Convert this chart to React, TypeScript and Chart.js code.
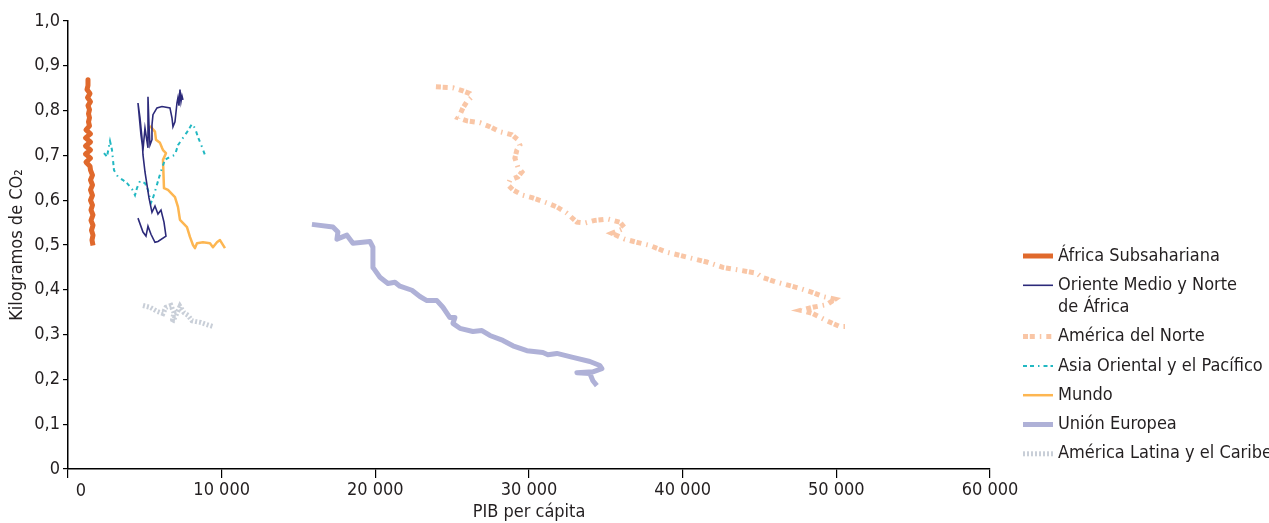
import React, { useEffect, useRef } from 'react';
import { Chart, registerables } from 'chart.js';

Chart.register(...registerables);

const FONT = '"Liberation Sans Narrow", "DejaVu Sans Condensed", "Arial Narrow", sans-serif';

// ---------------- data ----------------
const africaGdp = [1301, 1301, 1236, 1431, 1269, 1464, 1301, 1399, 1334, 1399, 1334, 1399, 1171, 1464, 1139, 1464, 1139, 1464, 1139, 1464, 1171, 1431, 1464, 1594, 1464, 1594, 1464, 1594, 1464, 1594, 1496, 1627, 1496, 1627, 1529, 1627, 1561, 1627];
const africaCo2 = [0.869, 0.856, 0.847, 0.838, 0.829, 0.82, 0.811, 0.802, 0.793, 0.784, 0.775, 0.766, 0.757, 0.748, 0.739, 0.73, 0.721, 0.712, 0.703, 0.694, 0.685, 0.676, 0.667, 0.656, 0.645, 0.634, 0.623, 0.611, 0.6, 0.589, 0.578, 0.567, 0.555, 0.544, 0.533, 0.522, 0.511, 0.499];

const menaGdp = [4554, 4880, 5075, 5205, 5400, 5660, 5855, 6376, 6246, 6051, 5855, 5660, 5465, 5270, 5140, 5010, 4880, 4814, 4684, 4554, 4749, 4880, 5010, 5205, 5205, 5205, 5270, 5335, 5465, 5465, 5530, 5790, 6116, 6636, 6766, 6831, 6961, 7092, 7157, 7222, 7287, 7352, 7417, 7482];
const menaCo2 = [0.56, 0.529, 0.52, 0.542, 0.524, 0.506, 0.508, 0.52, 0.551, 0.578, 0.569, 0.587, 0.573, 0.605, 0.634, 0.663, 0.701, 0.739, 0.784, 0.817, 0.746, 0.712, 0.761, 0.717, 0.779, 0.831, 0.768, 0.723, 0.735, 0.768, 0.791, 0.806, 0.809, 0.806, 0.784, 0.764, 0.775, 0.817, 0.829, 0.811, 0.847, 0.82, 0.833, 0.824];

const northAmGdp = [23942, 25048, 25699, 26154, 26284, 25959, 25699, 25504, 25374, 25959, 26805, 27455, 28106, 28887, 29277, 29407, 29212, 29082, 29277, 29537, 29277, 28757, 28626, 28952, 29602, 30253, 31164, 31814, 32465, 33116, 33636, 34287, 35132, 35913, 36238, 35392, 36238, 37019, 37865, 38971, 40272, 41573, 42614, 44176, 44826, 45152, 46128, 47429, 48470, 49120, 49901, 49381, 48470, 47689, 48470, 49381, 50226, 50681];
const northAmCo2 = [0.853, 0.851, 0.844, 0.838, 0.831, 0.82, 0.806, 0.791, 0.784, 0.777, 0.773, 0.764, 0.753, 0.746, 0.735, 0.723, 0.712, 0.694, 0.674, 0.663, 0.652, 0.645, 0.634, 0.623, 0.611, 0.605, 0.594, 0.585, 0.571, 0.551, 0.549, 0.555, 0.558, 0.551, 0.538, 0.526, 0.513, 0.506, 0.499, 0.484, 0.473, 0.462, 0.45, 0.441, 0.437, 0.428, 0.417, 0.405, 0.394, 0.385, 0.379, 0.367, 0.361, 0.354, 0.347, 0.331, 0.318, 0.318];

const asiaGdp = [2342, 2537, 2733, 2863, 2993, 3253, 3578, 3839, 4164, 4359, 4489, 4684, 5010, 5205, 5400, 5530, 5725, 5920, 6116, 6311, 6636, 6961, 7157, 7482, 7807, 8067, 8263, 8458, 8718, 8913];
const asiaCo2 = [0.705, 0.697, 0.732, 0.712, 0.667, 0.652, 0.645, 0.638, 0.625, 0.611, 0.627, 0.643, 0.638, 0.623, 0.594, 0.605, 0.627, 0.65, 0.672, 0.69, 0.697, 0.701, 0.723, 0.739, 0.755, 0.77, 0.761, 0.741, 0.719, 0.701];

const worldGdp = [5335, 5660, 5725, 5985, 6116, 6181, 6376, 6181, 6246, 6506, 6961, 7157, 7287, 7742, 7937, 8133, 8263, 8393, 8783, 9239, 9434, 9694, 9889, 10214];
const worldCo2 = [0.766, 0.753, 0.735, 0.728, 0.717, 0.712, 0.705, 0.69, 0.627, 0.623, 0.607, 0.585, 0.556, 0.54, 0.518, 0.5, 0.493, 0.504, 0.506, 0.504, 0.495, 0.506, 0.511, 0.493];

const euGdp = [15875, 17241, 17566, 17501, 18152, 18542, 19648, 19843, 19843, 20299, 20819, 21275, 21600, 22381, 22901, 23357, 24007, 24398, 24853, 25178, 25048, 25504, 26349, 26935, 27455, 28301, 28952, 29863, 30904, 31229, 31814, 32855, 33961, 34612, 34742, 34157, 33116, 33961, 34157, 34417];
const euCo2 = [0.546, 0.54, 0.529, 0.513, 0.522, 0.504, 0.508, 0.495, 0.45, 0.428, 0.414, 0.417, 0.408, 0.399, 0.385, 0.376, 0.376, 0.361, 0.338, 0.338, 0.325, 0.314, 0.307, 0.309, 0.298, 0.287, 0.275, 0.264, 0.26, 0.255, 0.258, 0.249, 0.24, 0.231, 0.224, 0.217, 0.215, 0.213, 0.197, 0.186];

const latamGdp = [4880, 5335, 5790, 6181, 6376, 6701, 6896, 6766, 7026, 7287, 7547, 7807, 8067, 8328, 8653, 8978, 9434];
const latamCo2 = [0.365, 0.361, 0.352, 0.347, 0.361, 0.365, 0.349, 0.327, 0.343, 0.363, 0.349, 0.343, 0.331, 0.329, 0.327, 0.323, 0.318];

const seriesLabels = [
  ['África Subsahariana'],
  ['Oriente Medio y Norte', 'de África'],
  ['América del Norte'],
  ['Asia Oriental y el Pacífico'],
  ['Mundo'],
  ['Unión Europea'],
  ['América Latina y el Caribe'],
];

const xTicks = [0, 10000, 20000, 30000, 40000, 50000, 60000];
const yTicks = [0, 0.1, 0.2, 0.3, 0.4, 0.5, 0.6, 0.7, 0.8, 0.9, 1.0];
const xTitle = 'PIB per cápita';
const yTitle = 'Kilogramos de CO₂';

// ---------------- styles ----------------
const seriesStyles = [
  { color: '#e0692c', width: 5, dash: [] as number[], join: 'round' },
  { color: '#2c2a7a', width: 1.6, dash: [] as number[], join: 'miter' },
  { color: '#f9c6a6', width: 5, dash: [5, 1.8, 5, 5, 1.5, 5], join: 'miter' },
  { color: '#22b8c2', width: 2, dash: [4, 3, 4, 4, 1.5, 4], join: 'miter' },
  { color: '#fdb651', width: 2.5, dash: [] as number[], join: 'round' },
  { color: '#afb1d7', width: 5, dash: [] as number[], join: 'round' },
  { color: '#c9cfd8', width: 5, dash: [2, 2], join: 'miter' },
];

const seriesData = [
  [africaGdp, africaCo2],
  [menaGdp, menaCo2],
  [northAmGdp, northAmCo2],
  [asiaGdp, asiaCo2],
  [worldGdp, worldCo2],
  [euGdp, euCo2],
  [latamGdp, latamCo2],
];

const fmtX = (v: number) => String(v).replace(/\B(?=(\d{3})+(?!\d))/g, ' ');
const fmtY = (v: number) => (Math.abs(v) < 1e-9 ? '0' : v.toFixed(1).replace('.', ','));

const legendPlugin = {
  id: 'customLegend',
  afterDraw(chart: any) {
    const ctx = chart.ctx as CanvasRenderingContext2D;
    ctx.save();
    ctx.font = `18px ${FONT}`;
    ctx.textBaseline = 'middle';
    ctx.textAlign = 'left';
    let y = 256;
    seriesLabels.forEach((lines, i) => {
      const st = seriesStyles[i];
      ctx.beginPath();
      ctx.strokeStyle = st.color;
      ctx.lineWidth = st.width;
      ctx.lineCap = 'butt';
      ctx.setLineDash(st.dash);
      ctx.moveTo(1023, y);
      ctx.lineTo(1053, y);
      ctx.stroke();
      ctx.setLineDash([]);
      ctx.fillStyle = '#231f20';
      lines.forEach((l, k) => ctx.fillText(l, 1058, y + k * 22));
      y += 29.3 + (lines.length - 1) * 22;
    });
    // x "0" label offset to the right of the axis origin
    const xs = chart.scales.x;
    ctx.textAlign = 'center';
    ctx.textBaseline = 'top';
    ctx.fillText('0', xs.getPixelForValue(0) + 13, xs.top + 13);
    ctx.restore();
  },
};

export default function App() {
  const ref = useRef<HTMLCanvasElement | null>(null);
  useEffect(() => {
    if (!ref.current) return;
    const datasets = seriesData.map(([xs, ys], i) => ({
      label: seriesLabels[i].join(' '),
      data: xs.map((x, k) => ({ x, y: ys[k] })),
      showLine: true,
      borderColor: seriesStyles[i].color,
      backgroundColor: seriesStyles[i].color,
      borderWidth: seriesStyles[i].width,
      borderDash: seriesStyles[i].dash,
      borderCapStyle: 'butt' as const,
      borderJoinStyle: seriesStyles[i].join as any,
      pointRadius: 0,
      tension: 0,
      fill: false,
    }));
    const chart = new Chart(ref.current, {
      type: 'scatter',
      data: { datasets },
      options: {
        animation: false,
        responsive: true,
        maintainAspectRatio: false,
        layout: { padding: { top: 21, right: 279, bottom: 0, left: 0 } },
        plugins: { legend: { display: false }, tooltip: { enabled: false } },
        scales: {
          x: {
            type: 'linear',
            min: 0,
            max: 60000,
            afterBuildTicks: (s: any) => { s.ticks = xTicks.map((v) => ({ value: v })); },
            afterFit: (s: any) => { s.height = 54; },
            ticks: {
              color: '#231f20',
              font: { family: FONT, size: 18 },
              padding: 2,
              maxRotation: 0,
              autoSkip: false,
              callback: (v: any) => (v === 0 ? '' : fmtX(v)),
            },
            grid: { drawOnChartArea: false, drawTicks: true, tickLength: 9, color: '#000', lineWidth: 1.2 },
            border: { display: true, color: '#000', width: 1.5 },
            title: { display: true, text: xTitle, color: '#231f20', font: { family: FONT, size: 18 }, padding: { top: 0, bottom: 0 } },
          },
          y: {
            type: 'linear',
            min: 0,
            max: 1,
            afterBuildTicks: (s: any) => { s.ticks = yTicks.map((v) => ({ value: v })); },
            afterFit: (s: any) => { s.width = 68; },
            ticks: {
              color: '#231f20',
              font: { family: FONT, size: 18 },
              padding: 3,
              autoSkip: false,
              callback: (v: any) => fmtY(v),
            },
            grid: { drawOnChartArea: false, drawTicks: true, tickLength: 5, color: '#000', lineWidth: 1.2 },
            border: { display: true, color: '#000', width: 1.5 },
            title: { display: true, text: yTitle, color: '#231f20', font: { family: FONT, size: 18 }, padding: { top: 7, bottom: 0 } },
          },
        },
      },
      plugins: [legendPlugin],
    });
    return () => chart.destroy();
  }, []);
  return (
    <div style={{ position: 'fixed', left: 0, top: 0, width: 1269, height: 523, background: '#fff' }}>
      <canvas ref={ref} />
    </div>
  );
}
